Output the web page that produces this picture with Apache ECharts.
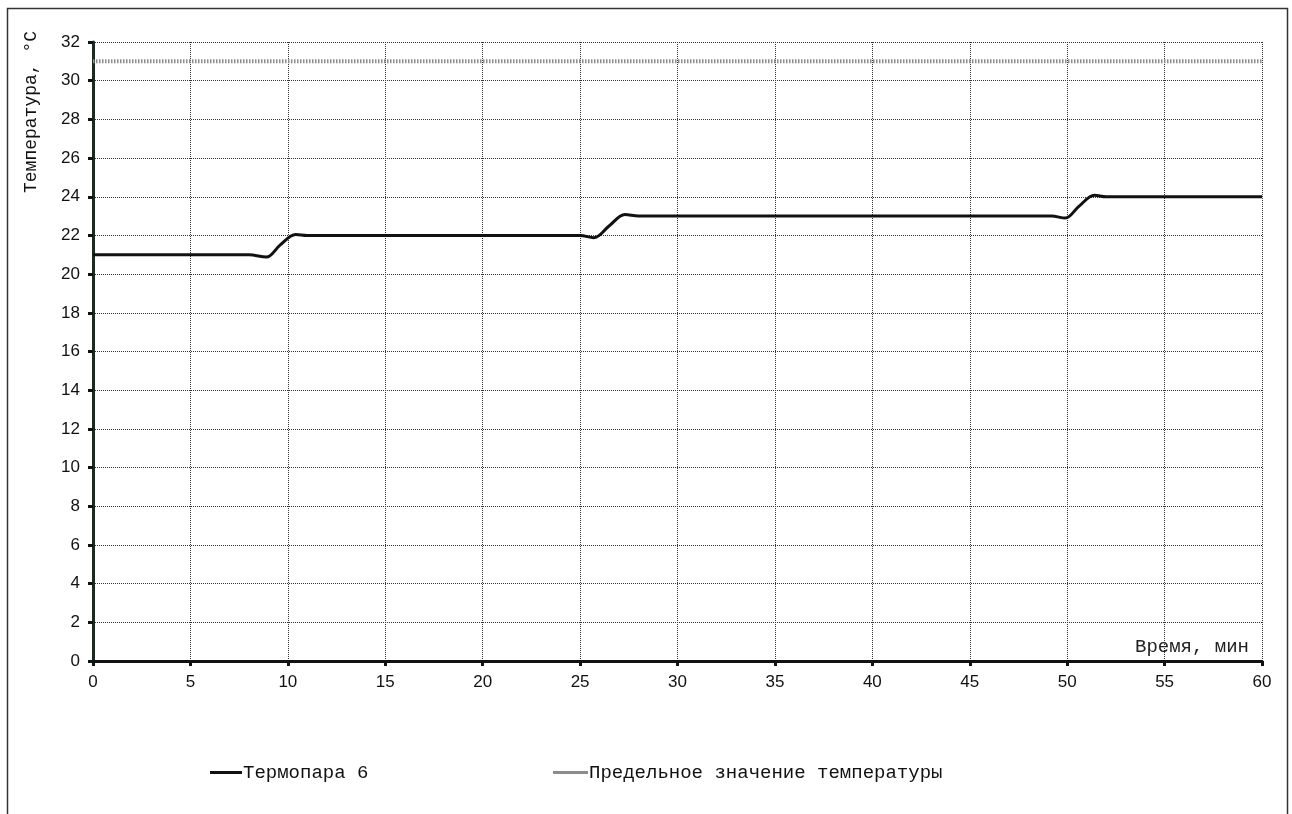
<!DOCTYPE html>
<html>
<head>
<meta charset="utf-8">
<script src="https://cdn.jsdelivr.net/npm/echarts@6/dist/echarts.min.js"></script>
<style>
html,body{margin:0;padding:0;background:#fff;}
#chart{width:1292px;height:814px;}
</style>
</head>
<body>
<div id="chart"></div>
<script>
// Data
var seriesNames = ['Термопара 6', 'Предельное значение температуры'];
var timeMin = [0, 8, 8.9, 9.6, 10.4, 11, 12, 24, 25, 25.7, 26.5, 27.3, 28, 29, 48, 49.2, 49.9, 50.6, 51.4, 52, 53, 60];
var thermo6 = [21, 21, 20.88, 21.5, 22.05, 22, 22, 22, 22, 21.88, 22.5, 23.08, 23, 23, 23, 23, 22.9, 23.5, 24.08, 24, 24, 24];
var limitTime = [0, 60];
var limitTemp = [31, 31];
var xTicks = [0, 5, 10, 15, 20, 25, 30, 35, 40, 45, 50, 55, 60];
var yTicks = [0, 2, 4, 6, 8, 10, 12, 14, 16, 18, 20, 22, 24, 26, 28, 30, 32];
var xAxisTitle = 'Время, мин';
var yAxisTitle = 'Температура, °С';

var chart = echarts.init(document.getElementById('chart'), null, {renderer: 'canvas'});
var mono = '"Liberation Mono", "DejaVu Sans Mono", monospace';
var sans = '"Liberation Sans", Arial, sans-serif';

function pairs(xs, ys) { return xs.map(function (x, i) { return [x, ys[i]]; }); }

var option = {
  backgroundColor: '#ffffff',
  animation: false,
  grid: {left: 93, right: 30, top: 42, bottom: 153, containLabel: false},
  xAxis: {
    type: 'value',
    min: xTicks[0], max: xTicks[xTicks.length - 1], interval: xTicks[1] - xTicks[0],
    name: xAxisTitle,
    nameLocation: 'end',
    nameGap: -127,
    nameTextStyle: {fontFamily: mono, fontSize: 19, color: '#222', align: 'left', verticalAlign: 'bottom', padding: [0, 0, 5, 0]},
    axisLine: {show: true, onZero: false, lineStyle: {color: '#111', width: 3}},
    axisTick: {show: true, inside: false, length: 5, lineStyle: {color: '#111', width: 3}},
    axisLabel: {fontFamily: sans, fontSize: 17, color: '#111', margin: 13},
    splitLine: {show: true, lineStyle: {color: '#333', width: 1, type: [1, 1]}}
  },
  yAxis: {
    type: 'value',
    min: yTicks[0], max: yTicks[yTicks.length - 1], interval: yTicks[1] - yTicks[0],
    axisLine: {show: true, onZero: false, lineStyle: {color: '#1c2a22', width: 3}},
    axisTick: {show: true, inside: false, length: 5, lineStyle: {color: '#111', width: 3}},
    axisLabel: {fontFamily: sans, fontSize: 17, color: '#111', margin: 13},
    splitLine: {show: true, lineStyle: {color: '#333', width: 1, type: [1, 1]}}
  },
  legend: [
    {
      data: [seriesNames[0]], left: 205, top: 758, icon: 'rect', itemWidth: 32, itemHeight: 3, itemGap: 0,
      textStyle: {fontFamily: mono, fontSize: 19, color: '#111', padding: [0, 0, 0, -4]}
    },
    {
      data: [seriesNames[1]], left: 548, top: 758, icon: 'rect', itemWidth: 35, itemHeight: 3, itemGap: 0,
      textStyle: {fontFamily: mono, fontSize: 19, color: '#111', padding: [0, 0, 0, -4]}
    }
  ],
  graphic: [
    {
      type: 'rect', silent: true, z: -1,
      shape: {x: 7.5, y: 8.5, width: 1280, height: 830},
      style: {fill: 'none', stroke: '#333', lineWidth: 1.5}
    },
    {
      type: 'text', silent: true, x: 31, y: 112, rotation: Math.PI / 2,
      style: {text: yAxisTitle, font: '18px ' + mono, fill: '#111', textAlign: 'center', textVerticalAlign: 'middle'}
    }
  ],
  series: [
    {
      name: seriesNames[0], type: 'line', data: pairs(timeMin, thermo6),
      smooth: 0.35, showSymbol: false, symbol: 'none',
      lineStyle: {color: '#111', width: 3}, itemStyle: {color: '#111'}, z: 3
    },
    {
      name: seriesNames[1], type: 'line', data: pairs(limitTime, limitTemp),
      showSymbol: false, symbol: 'none',
      lineStyle: {color: '#8c8c8c', width: 4, type: [1.5, 1.5]}, itemStyle: {color: '#8c8c8c'}, z: 2
    }
  ]
};
chart.setOption(option);
</script>
</body>
</html>
